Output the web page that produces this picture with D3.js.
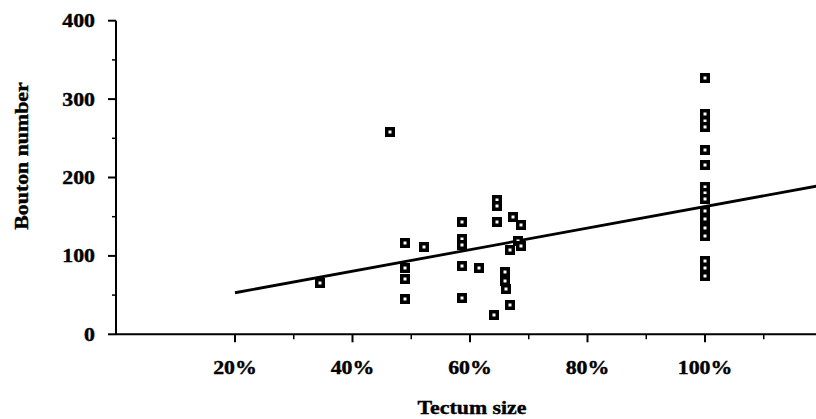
<!DOCTYPE html>
<html>
<head>
<meta charset="utf-8">
<script src="https://cdn.jsdelivr.net/npm/d3@7"></script>
<style>
    body { margin: 0; background: #fff; }
    text { font-family: "Liberation Serif", "Times New Roman", serif; font-weight: bold; fill: #000; stroke: #000; stroke-width: 0.4px; }
</style>
</head>
<body>
<div id="chart"></div>
<script>
// tectum size (%) and bouton number per axon
let tectumSize = [34.4, 46.4, 49.0, 49.0, 49.0, 49.0, 52.2,
    58.6, 58.6, 58.6, 58.6, 58.6, 61.6, 64.6, 64.6, 64.6, 64.0,
    66.0, 66.0, 66.2, 66.8, 66.8, 67.4, 68.6, 68.2, 68.6,
    100, 100, 100, 100, 100, 100, 100, 100, 100, 100, 100, 100, 100, 100, 100, 100];
let boutonNumber = [66, 258, 117, 85, 71, 45, 111,
    143, 121, 114, 87, 46, 84, 171, 164, 143, 25,
    80, 68, 58, 107, 37, 150, 139, 119, 113,
    327, 281, 272, 264, 235, 216, 188, 180, 172, 157, 147, 136, 126, 93, 84, 75];

// regression line end points
let fitX = [20, 119];
let fitY = [53, 189];

let yTicks = [0, 100, 200, 300, 400];
let yMinorTicks = [50, 150, 250, 350];
let xTicks = [20, 40, 60, 80, 100];
let xMinorTicks = [30, 50, 70, 90, 110];

let width = 816, height = 419;

let svg = d3.select("#chart").append("svg")
    .attr("width", width)
    .attr("height", height);

let xScale = d3.scaleLinear().domain([0, 120]).range([117.5, 822.5]);
let yScale = d3.scaleLinear().domain([0, 400]).range([334.3, 20.7]);

// stretched bold serif like the scanned figure
function label(x, y, txt, anchor, rotate) {
    let t = svg.append("text")
        .attr("transform", `translate(${x},${y})` + (rotate ? " rotate(-90)" : "") + " scale(1.15,1)")
        .attr("text-anchor", anchor)
        .style("font-size", "19px")
        .text(txt);
    return t;
}

// y axis
svg.append("line")
    .attr("x1", 116).attr("x2", 116)
    .attr("y1", yScale(400)).attr("y2", yScale(0))
    .attr("stroke", "#000").attr("stroke-width", 2);

svg.selectAll(".ytick").data(yTicks).enter().append("line")
    .attr("class", "ytick")
    .attr("x1", 108).attr("x2", 116)
    .attr("y1", d => yScale(d)).attr("y2", d => yScale(d))
    .attr("stroke", "#000").attr("stroke-width", 2);

svg.selectAll(".yminor").data(yMinorTicks).enter().append("line")
    .attr("class", "yminor")
    .attr("x1", 112).attr("x2", 116)
    .attr("y1", d => yScale(d)).attr("y2", d => yScale(d))
    .attr("stroke", "#000").attr("stroke-width", 1.5);

yTicks.forEach(d => label(95, yScale(d) + 6.5, d, "end"));

// x axis
svg.append("line")
    .attr("x1", 116).attr("x2", 816)
    .attr("y1", yScale(0)).attr("y2", yScale(0))
    .attr("stroke", "#000").attr("stroke-width", 2);

svg.selectAll(".xtick").data(xTicks).enter().append("line")
    .attr("class", "xtick")
    .attr("x1", d => xScale(d)).attr("x2", d => xScale(d))
    .attr("y1", yScale(0)).attr("y2", yScale(0) + 8)
    .attr("stroke", "#000").attr("stroke-width", 2);

svg.selectAll(".xminor").data(xMinorTicks).enter().append("line")
    .attr("class", "xminor")
    .attr("x1", d => xScale(d)).attr("x2", d => xScale(d))
    .attr("y1", yScale(0)).attr("y2", yScale(0) + 5)
    .attr("stroke", "#000").attr("stroke-width", 1.5);

xTicks.forEach(d => label(xScale(d), 374, d + "%", "middle"));

// axis titles
label(472, 414, "Tectum size", "middle");
label(28, 156, "Bouton number", "middle", true);

// regression line
svg.append("line")
    .attr("x1", xScale(fitX[0])).attr("y1", yScale(fitY[0]))
    .attr("x2", xScale(fitX[1])).attr("y2", yScale(fitY[1]))
    .attr("stroke", "#000").attr("stroke-width", 2.8);

// square markers
let points = tectumSize.map((t, i) => ({x: t, y: boutonNumber[i]}));

let marks = svg.append("g").selectAll("g.pt")
    .data(points)
    .enter()
    .append("g")
    .attr("class", "pt")
    .attr("transform", d => `translate(${Math.round(xScale(d.x))},${Math.round(yScale(d.y))})`);

marks.append("rect")
    .attr("x", -5).attr("y", -5)
    .attr("width", 10).attr("height", 10)
    .attr("fill", "#000");

marks.append("rect")
    .attr("x", -1.5).attr("y", -1.5)
    .attr("width", 3).attr("height", 3)
    .attr("fill", "#fff");
</script>
</body>
</html>
